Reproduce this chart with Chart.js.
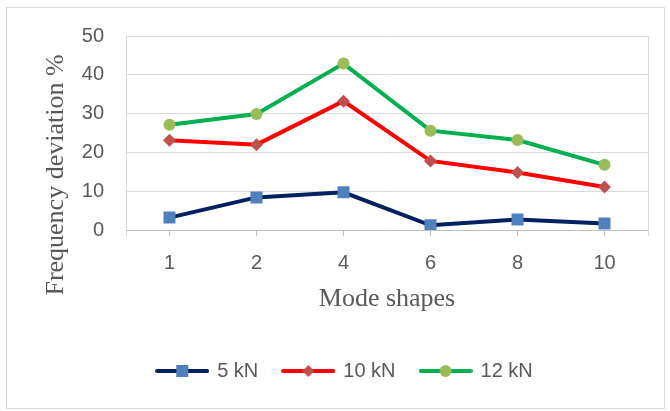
<!DOCTYPE html>
<html>
<head>
<meta charset="utf-8">
<script src="https://cdn.jsdelivr.net/npm/chart.js@4.4.1/dist/chart.umd.min.js"></script>
<style>
    body { margin: 0; background: #fff; }
    #frame { position: absolute; left: 6px; top: 7px; width: 657px; height: 400px; border: 1px solid #d9d9d9; }
    #c { position: absolute; left: 0; top: 0; }
</style>
</head>
<body>
<div id="frame"></div>
<canvas id="c" width="670" height="411"></canvas>
<script>
// Frequency deviation vs mode shape, three loads
const modes = ['1', '2', '4', '6', '8', '10'];
const dev5kN = [3.2, 8.4, 9.7, 1.2, 2.7, 1.7];
const dev10kN = [23.1, 22.0, 33.2, 17.8, 14.8, 11.1];
const dev12kN = [27.1, 29.9, 42.9, 25.6, 23.2, 16.8];
const yTicks = [0, 10, 20, 30, 40, 50];

const gray = '#595959';

// small line+marker picture used as the legend symbol
function legendGlyph(lineColor, markColor, style) {
    const cv = document.createElement('canvas');
    cv.width = 54; cv.height = 16;
    const g = cv.getContext('2d');
    g.strokeStyle = lineColor;
    g.lineWidth = 4;
    g.lineCap = 'round';
    g.beginPath(); g.moveTo(2, 8); g.lineTo(52, 8); g.stroke();
    g.fillStyle = markColor;
    g.beginPath();
    if (style === 'rect') g.rect(21, 2, 12, 12);
    else if (style === 'rectRot') { g.moveTo(27, 2); g.lineTo(33, 8); g.lineTo(27, 14); g.lineTo(21, 8); g.closePath(); }
    else g.arc(27, 8, 6, 0, Math.PI * 2);
    g.fill();
    return cv;
}

const framePlugin = {
    id: 'frame',
    afterLayout(chart) {
        // nudge legend to sit where the original one does
        chart.legend.left += 21;
        chart.legend.right += 21;
    },
    beforeDatasetsDraw(chart) {
        const a = chart.chartArea, ctx = chart.ctx;
        ctx.save();
        ctx.lineWidth = 1;
        ctx.strokeStyle = '#d9d9d9';
        ctx.beginPath();
        ctx.moveTo(a.right + 0.5, a.top); ctx.lineTo(a.right + 0.5, a.bottom + 6);
        ctx.moveTo(a.left + 0.5, a.bottom); ctx.lineTo(a.left + 0.5, a.bottom + 6);
        ctx.stroke();
        ctx.restore();
    },
    afterDraw(chart) {
        const ctx = chart.ctx;
        ctx.save();
        ctx.translate(56, 175);
        ctx.rotate(-Math.PI / 2);
        ctx.font = '26px "Liberation Serif"';
        ctx.fillStyle = gray;
        ctx.textAlign = 'center';
        ctx.textBaseline = 'middle';
        ctx.fillText('Frequency deviation %', 0, 0);
        ctx.restore();
    }
};

new Chart(document.getElementById('c'), {
    type: 'line',
    data: {
        labels: modes,
        datasets: [
            { label: '5 kN', data: dev5kN, borderColor: '#002060', backgroundColor: '#4f81bd', borderWidth: 4,
              pointStyle: 'rect', pointRadius: 8.5, pointBorderWidth: 0, pointBackgroundColor: '#4f81bd',
              glyph: legendGlyph('#002060', '#4f81bd', 'rect') },
            { label: '10 kN', data: dev10kN, borderColor: '#ff0000', backgroundColor: '#c0504d', borderWidth: 4,
              pointStyle: 'rectRot', pointRadius: 6.5, pointBorderWidth: 0, pointBackgroundColor: '#c0504d',
              glyph: legendGlyph('#ff0000', '#c0504d', 'rectRot') },
            { label: '12 kN', data: dev12kN, borderColor: '#00b050', backgroundColor: '#9bbb59', borderWidth: 4,
              pointStyle: 'circle', pointRadius: 6, pointBorderWidth: 0, pointBackgroundColor: '#9bbb59',
              glyph: legendGlyph('#00b050', '#9bbb59', 'circle') }
        ]
    },
    options: {
        responsive: false,
        animation: false,
        devicePixelRatio: 1,
        layout: { padding: { top: 36, right: 22, left: 0, bottom: 20 } },
        plugins: {
            tooltip: { enabled: false },
            legend: {
                position: 'bottom',
                labels: {
                    usePointStyle: true,
                    pointStyleWidth: 50,
                    padding: 25,
                    color: gray,
                    font: { family: '"Liberation Sans"', size: 20 },
                    generateLabels(chart) {
                        return chart.data.datasets.map((ds, i) => ({
                            text: ds.label, pointStyle: ds.glyph, fontColor: gray,
                            lineWidth: 0, strokeStyle: 'transparent', fillStyle: 'transparent', datasetIndex: i
                        }));
                    }
                }
            }
        },
        scales: {
            x: {
                offset: true,
                afterFit: s => { s.height = 106; },
                grid: { offset: false, drawOnChartArea: false, drawTicks: true, tickLength: 6, color: '#bfbfbf' },
                border: { color: '#bfbfbf' },
                ticks: { color: gray, padding: 15, font: { family: '"Liberation Sans"', size: 20 } },
                title: { display: true, text: 'Mode shapes', color: gray, padding: { top: 0, bottom: 21 },
                         font: { family: '"Liberation Serif"', size: 26 } }
            },
            y: {
                min: 0, max: 50,
                afterFit: s => { s.width = 126; },
                afterBuildTicks: s => { s.ticks = yTicks.map(v => ({ value: v })); },
                grid: { color: '#d9d9d9', drawTicks: false },
                border: { display: true, color: '#d9d9d9' },
                ticks: { color: gray, padding: 22, font: { family: '"Liberation Sans"', size: 20 } }
            }
        }
    },
    plugins: [framePlugin]
});
</script>
</body>
</html>
